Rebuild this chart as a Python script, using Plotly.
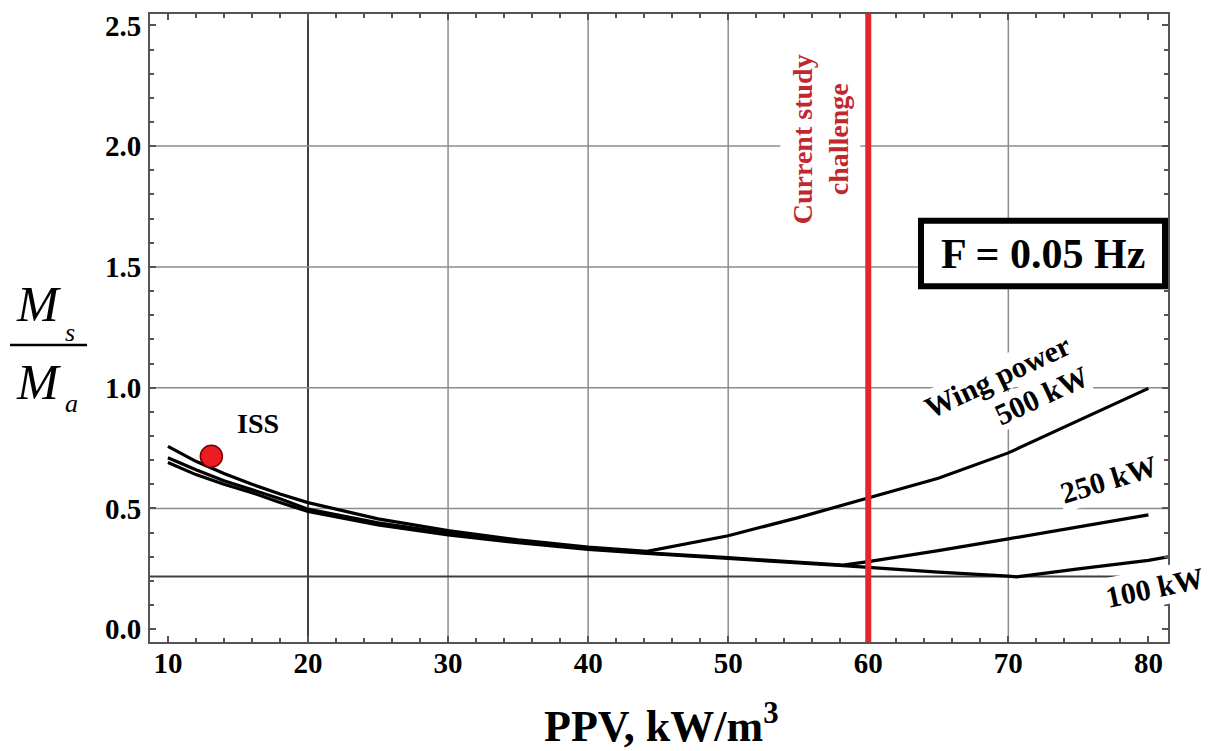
import plotly.graph_objects as go

# ---------------- data ----------------
X_500 = [10, 12, 14, 16, 18, 20, 25, 30, 35, 40, 44.2, 47, 50, 55, 60, 65, 70, 75, 80]
Y_500 = [0.757, 0.695, 0.645, 0.600, 0.560, 0.524, 0.457, 0.408, 0.370, 0.340, 0.322,
         0.355, 0.387, 0.462, 0.543, 0.625, 0.730, 0.862, 0.997]

X_250 = [10, 12, 14, 16, 18, 20, 25, 30, 35, 40, 44.2, 50, 55, 58.2, 60, 65, 70, 75, 80]
Y_250 = [0.710, 0.660, 0.615, 0.578, 0.540, 0.497, 0.440, 0.398, 0.362, 0.333, 0.316,
         0.296, 0.277, 0.265, 0.280, 0.325, 0.374, 0.422, 0.473]

X_100 = [10, 12, 14, 16, 18, 20, 25, 30, 35, 40, 44.2, 50, 55, 58.2, 60, 65, 70, 70.6, 75, 80, 82]
Y_100 = [0.690, 0.640, 0.600, 0.565, 0.525, 0.487, 0.432, 0.390, 0.358, 0.330, 0.314,
         0.294, 0.275, 0.263, 0.256, 0.236, 0.220, 0.217, 0.250, 0.285, 0.305]

ISS_X = [13.1]
ISS_Y = [0.716]

X_TICKS = [10, 20, 30, 40, 50, 60, 70, 80]
Y_TICKS = [0.0, 0.5, 1.0, 1.5, 2.0, 2.5]
Y_TICK_TEXT = ["0.0", "0.5", "1.0", "1.5", "2.0", "2.5"]
GRID_X = [20, 30, 40, 50, 60, 70]
GRID_Y = [0.5, 1.0, 1.5, 2.0]
LIMIT_Y = 0.218
CHALLENGE_X = 60

X_RANGE = [8.72, 81.4]
Y_RANGE = [-0.053, 2.547]

# ---------------- layout geometry (pixels) ----------------
W, H = 1215, 751
L, R, T, B = 150, 1168, 10, 642
PW, PH = R - L, B - T


def px(xp):
    return (xp - L) / PW


def py(yp):
    return (B - yp) / PH


SERIF = "Liberation Serif"
RED = "#e3262b"

fig = go.Figure()

for xs, ys, name in [(X_100, Y_100, "100 kW"), (X_250, Y_250, "250 kW"), (X_500, Y_500, "500 kW")]:
    fig.add_trace(go.Scatter(x=xs, y=ys, mode="lines", name=name,
                             line=dict(color="black", width=3.2), showlegend=False))

fig.add_trace(go.Scatter(x=ISS_X, y=ISS_Y, mode="markers", name="ISS", showlegend=False,
                         marker=dict(size=22, color="#ec1c24", line=dict(color="#7a0000", width=1.5))))

shapes = []
for gx in GRID_X:
    dark = gx == 20
    shapes.append(dict(type="line", xref="x", yref="paper", x0=gx, x1=gx, y0=0, y1=1,
                       line=dict(color="#404040" if dark else "#8c8c8c", width=2 if dark else 1.5),
                       layer="below"))
for gy in GRID_Y:
    shapes.append(dict(type="line", xref="paper", yref="y", x0=0, x1=1, y0=gy, y1=gy,
                       line=dict(color="#8c8c8c", width=1.5), layer="below"))
shapes.append(dict(type="line", xref="paper", yref="y", x0=0, x1=1, y0=LIMIT_Y, y1=LIMIT_Y,
                   line=dict(color="#404040", width=2), layer="below"))
# red challenge line
shapes.append(dict(type="line", xref="x", yref="paper", x0=CHALLENGE_X, x1=CHALLENGE_X, y0=0, y1=1,
                   line=dict(color=RED, width=6), layer="above"))
# F box
shapes.append(dict(type="rect", xref="paper", yref="paper",
                   x0=px(921), x1=px(1165), y0=py(284), y1=py(218),
                   fillcolor="white", line=dict(color="black", width=6), layer="above"))
# fraction bar of the y label
shapes.append(dict(type="line", xref="paper", yref="paper", x0=px(10), x1=px(87), y0=py(343), y1=py(343),
                   line=dict(color="black", width=2.5)))


def ann(text, cx, cy, size, angle=0, color="black", bg=None, pad=1, italic=False, bold=True):
    t = text
    if bold:
        t = "<b>" + t + "</b>"
    if italic:
        t = "<i>" + t + "</i>"
    d = dict(text=t, xref="paper", yref="paper", x=px(cx), y=py(cy), xanchor="center", yanchor="middle",
             showarrow=False, textangle=angle, font=dict(family=SERIF, size=size, color=color),
             borderpad=pad)
    if bg:
        d["bgcolor"] = bg
    return d


annotations = [
    ann("ISS", 258, 422, 28),
    ann("Current study<br>challenge", 820, 136, 28, angle=-90, color="#c0282e", bg="white", pad=6),
    ann("F = 0.05 Hz", 1043, 252, 42),
    ann("500 kW", 1041, 394, 30, angle=-25, bg="white", pad=0),
    ann("Wing power", 997, 375, 30, angle=-25, bg="white", pad=0),
    ann("250 kW", 1108, 478, 30, angle=-17, bg="white", pad=2),
    ann("100 kW", 1154, 587, 30, angle=-12, bg="white", pad=2),
    ann("PPV, kW/m<sup>3</sup>", 661, 724, 44),
    ann("M", 38, 302, 50, italic=True, bold=False),
    ann("s", 70, 331, 26, italic=True, bold=False),
    ann("M", 38, 380, 50, italic=True, bold=False),
    ann("a", 71, 402, 26, italic=True, bold=False),
]

axis_common = dict(showgrid=False, zeroline=False, showline=True, linecolor="#555555", linewidth=2,
                   mirror="ticks", ticks="inside", tickcolor="#555555", tickwidth=1.5, ticklen=6,
                   tickfont=dict(family=SERIF, size=29, color="black", weight="bold"))

fig.update_layout(
    width=W, height=H,
    margin=dict(l=L, r=W - R, t=T, b=H - B, pad=0),
    paper_bgcolor="white", plot_bgcolor="white",
    showlegend=False,
    shapes=shapes,
    annotations=annotations,
    xaxis=dict(range=X_RANGE, tickvals=X_TICKS, ticktext=[str(v) for v in X_TICKS],
               minor=dict(dtick=2, tick0=0, ticks="inside", ticklen=4, tickcolor="#555555", showgrid=False),
               ticklabelstandoff=-6, **axis_common),
    yaxis=dict(range=Y_RANGE, tickvals=Y_TICKS, ticktext=Y_TICK_TEXT,
               minor=dict(dtick=0.1, tick0=0, ticks="inside", ticklen=4, tickcolor="#555555", showgrid=False),
               ticklabelstandoff=1, **axis_common),
)

fig.write_html("out.html", config={"displayModeBar": False})
with open("out.html", "r", encoding="utf-8") as f:
    html = f.read()
html = html.replace("<head>", "<head><style>body{margin:0;padding:0;}</style>", 1)
with open("out.html", "w", encoding="utf-8") as f:
    f.write(html)
